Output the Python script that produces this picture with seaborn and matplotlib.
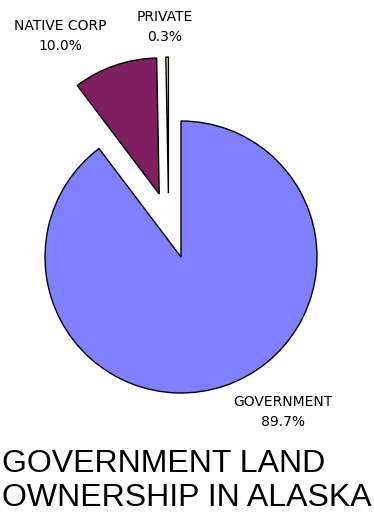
import matplotlib
matplotlib.use("Agg")
import matplotlib.pyplot as plt
import matplotlib.transforms as mtransforms
import seaborn as sns

# land ownership shares (%)
owners = ["GOVERNMENT", "NATIVE CORP", "PRIVATE"]
shares = [89.7, 10.0, 0.3]
colors = ["#8080FF", "#7F1F5F", "#FFFFC0"]
explode = [0.0, 0.49, 0.47]

sns.set_theme(style="white")
plt.rcParams["font.family"] = ["DejaVu Sans"]

fig = plt.figure(figsize=(3.74, 5.14), dpi=100)
ax = fig.add_axes([0, 0, 1, 1])

wedges, _ = ax.pie(shares, colors=colors, explode=explode, startangle=90, counterclock=False,
                   radius=1.0, wedgeprops={"edgecolor": "black", "linewidth": 1.0})
# the thin private slice sits a little left of the gap, as in the original
shift = mtransforms.ScaledTranslation(-0.12, 0, fig.dpi_scale_trans)
wedges[2].set_transform(ax.transData + shift)
ax.set_xlim(-181 / 136, (374 - 181) / 136)
ax.set_ylim(-257 / 136, 257 / 136)
ax.set_aspect("auto")
ax.axis("off")

# slice labels
lab = dict(fontsize=10, ha="center", va="center", color="black", linespacing=1.5)
fig.text(60 / 374, 1 - 36 / 514, f"NATIVE CORP\n{shares[1]:.1f}%", **lab)
fig.text(165 / 374, 1 - 27 / 514, f"PRIVATE\n{shares[2]:.1f}%", **lab)
fig.text(283 / 374, 1 - 412 / 514, f"GOVERNMENT\n{shares[0]:.1f}%", **lab)

fig.text(0.005, 1 - 449 / 514, "GOVERNMENT LAND\nOWNERSHIP IN ALASKA", color="black",
         fontsize=23, family="Liberation Sans", ha="left", va="top", linespacing=1.18)

fig.savefig("out.png", dpi=100, facecolor="white")
